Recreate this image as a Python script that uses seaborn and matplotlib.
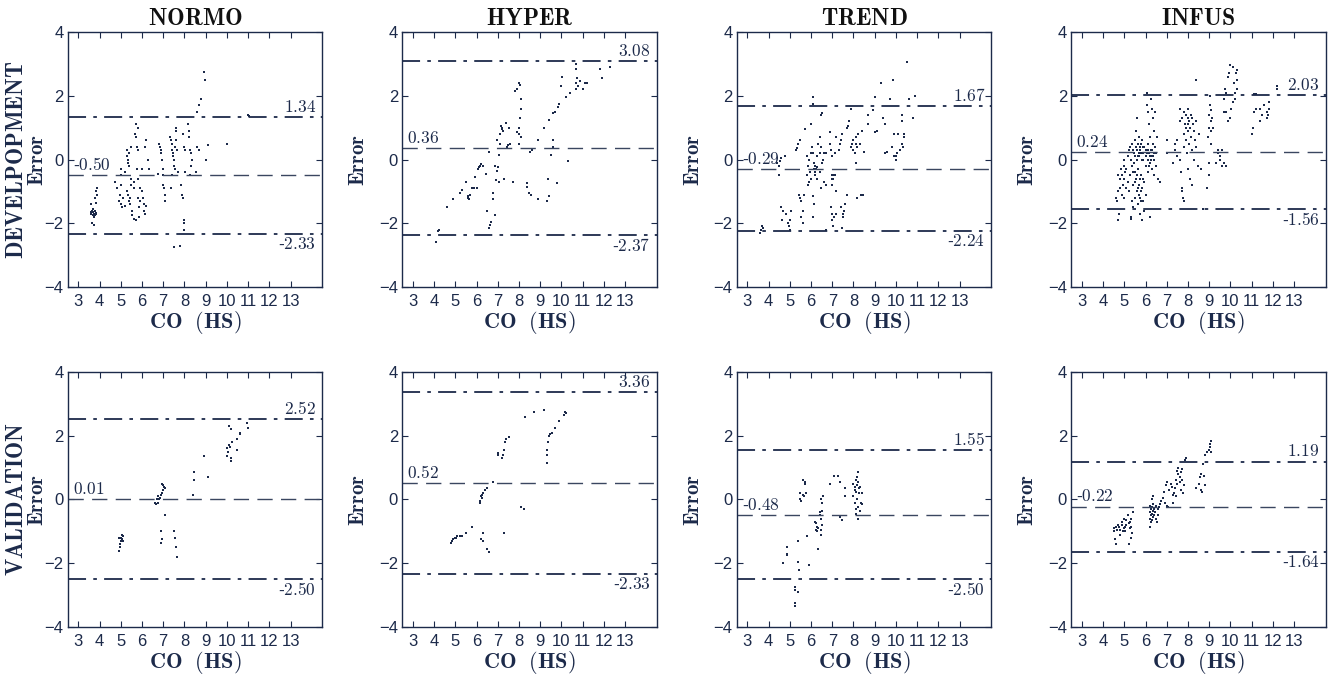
import numpy as np
import pandas as pd
import matplotlib
matplotlib.use("Agg")
import matplotlib.pyplot as plt
import seaborn as sns
from matplotlib.transforms import blended_transform_factory

# -----------------------------
# Data
# -----------------------------
groups = ["NORMO", "HYPER", "TREND", "INFUS"]
rows = ["DEVELPOPMENT", "VALIDATION"]

# mean bias, upper limit, lower limit
dev_stats = [(-0.50, 1.34, -2.33), (0.36, 3.08, -2.37), (-0.29, 1.67, -2.24), (0.24, 2.03, -1.56)]
val_stats = [(0.01, 2.52, -2.50), (0.52, 3.36, -2.33), (-0.48, 1.55, -2.50), (-0.22, 1.19, -1.64)]

normo_dev = [
    (3.6, -1.65), (3.62, -1.7), (3.65, -1.6), (3.68, -1.75), (3.7, -1.65), (3.72, -1.8), (3.75, -1.7),
    (3.78, -1.6), (3.8, -1.75), (3.82, -1.68), (3.85, -1.72), (3.7, -1.55), (3.6, -1.4), (3.65, -2.0),
    (3.75, -2.05), (3.8, -1.2), (3.85, -1.0), (3.9, -0.9), (3.9, -1.1), (3.82, -1.35),
    (4.75, -0.7), (4.8, -0.9), (4.9, -1.3), (4.95, -1.1), (5.0, -0.3), (5.0, -0.5), (5.0, -0.8),
    (5.0, -1.4), (5.05, -1.5), (5.1, -1.2), (5.2, -0.4), (5.2, -1.45),
    (5.3, 0.3), (5.3, 0.1), (5.35, 0.0), (5.35, -0.1), (5.4, -0.2), (5.4, 0.2), (5.3, -1.0),
    (5.35, -1.1), (5.4, -1.3), (5.45, -1.4), (5.45, -1.2), (5.5, -0.6), (5.5, -0.8), (5.5, 0.4),
    (5.55, -1.6), (5.55, -1.75), (5.6, -1.85), (5.6, -0.9), (5.6, -0.7),
    (5.65, 0.8), (5.7, 0.7), (5.7, 1.1), (5.75, 0.4), (5.75, -0.3), (5.8, 1.0), (5.8, 0.3),
    (5.8, -0.6), (5.8, -1.2), (5.85, -1.5), (5.85, -1.8), (5.7, -1.9), (5.9, -1.3), (5.9, -0.9),
    (6.0, -0.3), (6.0, -1.0), (6.05, -1.2), (6.1, -1.4), (6.1, -1.6), (6.15, -1.7), (6.2, -1.45),
    (6.15, 0.4), (6.2, 0.6), (6.3, 0.0), (6.35, -0.3),
    (6.8, 0.5), (6.85, 0.4), (6.9, 0.3), (6.9, 0.2), (6.95, 0.0), (7.0, -0.3), (7.0, -0.5),
    (7.0, -0.8), (7.05, -0.9), (7.1, -1.1), (7.1, -1.3), (6.75, -0.45),
    (7.3, 0.7), (7.35, 0.6), (7.4, 0.5), (7.4, 0.3), (7.45, 0.2), (7.45, 0.1), (7.5, 0.0),
    (7.5, -0.2), (7.55, -0.3), (7.55, 0.4), (7.6, 1.0), (7.6, 0.9), (7.6, 0.6), (7.35, -0.9),
    (7.4, -0.5), (7.65, 0.3), (7.7, -0.4),
    (7.85, -0.8), (7.9, -1.1), (7.95, -1.2), (8.0, -1.9), (8.0, -2.0), (8.0, -2.2), (7.95, 0.8),
    (8.0, 0.4), (8.05, 0.3), (8.05, -0.4),
    (8.15, 1.1), (8.2, 0.9), (8.2, 0.7), (8.25, 0.3), (8.3, 0.2), (8.3, -0.2), (8.25, -0.5), (8.35, 0.0),
    (8.6, 1.5), (8.7, 1.7), (8.8, 1.9), (8.95, 2.5), (8.9, 2.75), (8.6, 0.4), (8.7, 0.3), (9.0, 0.0),
    (8.55, -0.4), (9.1, 0.45), (10.0, 0.5), (11.0, 1.4), (11.05, 1.35),
    (7.5, -2.75), (7.8, -2.7),
]

hyper_dev = [
    (4.1, -2.6), (4.2, -2.25), (4.25, -2.2), (4.6, -1.5), (4.9, -1.25), (5.2, -1.05), (5.3, -0.95),
    (5.5, -0.7), (5.6, -1.15), (5.62, -1.2), (5.65, -1.25), (5.7, -1.1), (5.8, -0.9), (5.9, -0.9),
    (5.95, -0.55), (6.0, -0.88), (6.05, -0.3), (6.1, -0.25), (6.15, -0.2), (6.2, -0.15), (6.3, -0.2),
    (6.45, -0.45), (6.5, -1.6), (6.6, -2.15), (6.65, -2.05), (6.7, -1.95), (6.8, -1.25), (6.8, -1.05),
    (6.85, -1.75), (6.6, 0.25), (6.85, -0.2), (6.95, -0.35), (7.0, -0.25), (6.9, -0.65), (7.05, -0.7),
    (6.95, 0.6), (7.05, 0.15), (7.1, 0.8), (7.15, 1.05), (7.2, 1.0), (7.22, 0.95), (7.25, 0.9),
    (7.1, 0.5), (7.3, -0.6), (7.4, 1.15), (7.45, 0.4), (7.5, 0.45), (7.55, 1.0), (7.6, 0.5),
    (7.7, -0.7), (7.8, 2.15), (7.9, 2.2), (8.0, 2.4), (8.05, 2.35), (8.1, 1.9), (8.1, 1.6),
    (8.05, 1.3), (8.0, 1.0), (8.0, 0.8), (8.0, 0.5), (7.9, 0.85), (8.1, 0.7), (8.4, -0.75),
    (8.4, -0.85), (8.45, -1.05), (8.55, -1.1), (8.5, 0.25), (8.6, 0.3), (8.9, -1.25), (8.9, 0.6),
    (9.3, -1.3), (9.35, -0.6), (9.4, -1.15), (9.2, 1.0), (9.4, 1.25), (9.5, 0.15), (9.6, 0.4),
    (9.6, 0.6), (9.6, 1.45), (9.7, 1.5), (9.8, -0.75), (9.85, 1.65), (9.9, 1.75), (10.0, 2.3),
    (10.05, 2.6), (10.2, 1.95), (10.3, -0.05), (10.4, 2.1), (10.7, 2.2), (10.7, 2.4), (10.75, 2.55),
    (10.7, 2.85), (10.7, 3.0), (10.8, 2.3), (10.9, 2.45), (11.0, 2.2), (11.1, 2.4), (11.2, 2.4),
    (11.8, 2.85), (11.9, 2.55), (12.3, 2.9),
]

trend_dev = [
    (3.6, -2.3), (3.65, -2.2), (3.7, -2.1), (3.75, -2.15), (4.4, -0.1), (4.5, -0.5), (4.5, -0.2),
    (4.55, -0.05), (4.6, 0.05), (4.75, 0.1), (4.6, -1.5), (4.7, -1.6), (4.65, -1.9), (4.8, -1.7),
    (4.9, -2.0), (4.95, -2.1), (5.0, -1.9), (5.05, -1.6), (5.0, -2.2), (5.3, 0.3), (5.35, 0.35),
    (5.4, 0.5), (5.5, 0.6), (5.45, -1.1), (5.5, -1.2), (5.55, -1.3), (5.6, -1.6), (5.55, -1.8),
    (5.6, -2.0), (5.65, -1.1), (5.7, 0.95), (5.8, 0.1), (5.85, -0.2), (5.8, -0.5), (5.9, -0.7),
    (5.95, -0.4), (6.0, 0.2), (5.9, 0.0), (6.0, -0.6), (5.85, -0.8), (6.0, 1.1), (6.1, 1.95),
    (6.1, 1.75), (6.05, 0.4), (6.1, 0.2), (6.15, -0.1), (6.15, -0.3), (6.2, -0.4), (6.2, -0.5),
    (6.25, -0.3), (6.1, -1.15), (6.15, -1.4), (6.1, -1.8), (6.2, -0.2), (6.3, 0.1), (6.3, -0.6),
    (6.35, 0.5), (6.3, -0.25), (6.4, 0.7), (6.45, 0.4), (6.4, 0.2), (6.5, 1.45), (6.45, 1.4),
    (6.5, -0.1), (6.55, 0.0), (6.6, 0.2), (6.4, -0.4), (6.45, -0.9), (6.6, -0.7), (6.7, 0.2),
    (6.7, -0.8), (6.7, -2.2), (6.9, 0.85), (6.9, 0.5), (6.95, 0.3), (7.0, 0.1), (7.0, -0.5),
    (7.0, -0.6), (7.0, -0.8), (7.05, -0.6), (7.1, -0.5), (6.95, -1.5), (7.0, -1.7), (7.0, -1.9),
    (7.05, -2.1), (7.1, -1.8), (7.15, -0.5), (7.15, 0.2), (7.2, 0.7), (7.2, -1.0), (7.2, -1.7),
    (7.3, 0.3), (7.35, 0.5), (7.4, 0.6), (7.45, 0.8), (7.4, -1.5), (7.5, -1.7), (7.55, -1.6),
    (7.6, -1.4), (7.45, -2.15), (7.5, -1.8), (7.7, 1.0), (7.75, 1.05), (7.8, 1.2), (7.9, 1.6),
    (7.9, 0.4), (7.95, 0.5), (8.0, 0.3), (8.0, 0.6), (8.05, 0.2), (8.1, 0.5), (8.1, -0.1),
    (8.15, 0.4), (8.2, 0.8), (8.3, 0.5), (8.15, -1.2), (8.35, -1.1), (8.45, -1.1), (8.4, 0.9),
    (8.5, 0.25), (8.1, 0.7), (7.7, -1.1), (8.7, 1.4), (8.7, 1.1), (8.9, 1.55), (9.0, 1.95),
    (9.0, 0.85), (9.1, 0.9), (9.3, 2.4), (9.4, 1.3), (9.5, 1.1), (9.5, 0.2), (9.6, 0.25),
    (9.7, 1.9), (9.8, 0.4), (9.9, 0.8), (9.85, 2.5), (9.9, 0.1), (10.0, 0.0), (10.05, 0.2),
    (10.1, 0.8), (10.0, 0.1), (10.3, 1.4), (10.3, 1.2), (10.3, 0.5), (10.35, 0.4), (10.4, 0.8),
    (10.4, 0.7), (10.5, 3.05), (10.6, 1.9), (10.8, 1.3), (10.9, 2.0), (10.2, 0.3),
]

infus_dev = [
    (4.6, -1.2), (4.65, -1.3), (4.7, -1.0), (4.7, -1.9), (4.75, -1.7), (4.7, -0.5), (4.8, -0.6),
    (4.8, -0.9), (4.85, -0.3), (4.9, -0.5), (4.9, -1.1), (4.95, -0.8), (5.0, -0.2), (5.0, -0.6),
    (5.0, -1.2), (5.05, -0.4), (5.0, 0.0), (5.1, -0.9), (5.1, -0.3), (5.15, 0.1), (5.15, -0.7),
    (5.2, 0.3), (5.2, -1.0), (5.25, -0.5), (5.25, 0.4), (5.3, -1.85), (5.32, -1.8), (5.35, -1.3),
    (5.3, 0.0), (5.35, -0.2), (5.35, 0.5), (5.4, -1.5), (5.4, -0.8), (5.45, 0.2), (5.45, -0.1),
    (5.5, -1.2), (5.5, 0.6), (5.5, -0.4), (5.55, 0.9), (5.55, -0.6), (5.6, 0.3), (5.6, -1.0),
    (5.6, 1.3), (5.65, 0.5), (5.65, -0.3), (5.65, -1.4), (5.7, 0.1), (5.7, -0.8), (5.7, 0.7),
    (5.75, -1.2), (5.75, 0.4), (5.75, -1.7), (5.8, 0.2), (5.8, -0.5), (5.8, -1.0), (5.85, 0.6),
    (5.85, -0.9), (5.85, -1.9), (5.9, 0.0), (5.9, -1.3), (5.9, 0.4), (5.95, -0.7), (5.95, -1.6),
    (6.0, 0.3), (6.0, -0.2), (6.0, -1.1), (6.05, 1.7), (6.05, 2.1), (6.1, 1.5), (6.1, 0.5),
    (6.1, 0.0), (6.1, -0.4), (6.15, 0.2), (6.15, 1.1), (6.2, 0.7), (6.2, -0.1), (6.2, -1.8),
    (6.25, 0.3), (6.25, 1.9), (6.3, 1.6), (6.3, 0.1), (6.3, -0.3), (6.35, 0.5), (6.35, 1.3),
    (6.4, 0.0), (6.4, 0.9), (6.4, -0.5), (6.45, 0.4), (6.45, 1.5), (6.5, 0.2), (6.5, -0.2),
    (6.55, 0.7), (6.6, -0.6), (6.7, -0.7), (5.4, 0.3), (5.5, 0.1), (5.6, 0.0), (5.7, 0.2),
    (5.8, 0.5), (5.9, 0.2), (6.0, 0.1), (6.1, 0.3), (6.2, 0.1), (6.3, 0.3), (6.4, 0.2),
    (5.55, 0.4), (5.65, 0.1), (5.75, 0.3), (5.85, 0.0), (5.95, 0.4), (6.05, 0.2), (6.15, -0.2),
    (6.25, 0.0), (6.35, 0.1), (5.4, -0.4), (5.5, -0.7), (5.6, -0.5), (5.7, -1.1), (5.8, -1.3),
    (5.9, -0.6), (5.65, -0.9), (5.75, -0.6),
    (7.0, 0.6), (7.0, 0.2), (7.3, -0.1), (7.4, 0.3), (7.4, 0.5), (7.5, 0.1), (7.5, 0.6),
    (7.6, 1.6), (7.6, 1.2), (7.6, 0.0), (7.65, -0.4), (7.7, -0.9), (7.72, -1.0), (7.75, -1.2),
    (7.8, -1.3), (7.7, 1.3), (7.8, 1.5), (7.8, 0.8), (7.8, 0.4), (7.85, 1.1), (7.9, 1.4),
    (7.9, 1.0), (7.9, 0.6), (7.95, 0.2), (8.0, 1.6), (8.0, 1.3), (8.0, 1.1), (8.0, 0.9),
    (8.0, -0.3), (8.05, 1.2), (8.05, 0.5), (8.1, 1.0), (8.1, -0.6), (8.15, 1.4), (8.15, 0.7),
    (8.2, 1.3), (8.2, 0.3), (8.2, -0.8), (8.25, 1.1), (8.3, 0.9), (8.3, 0.0), (8.35, 0.6),
    (8.4, 2.5), (8.4, 1.2), (8.4, 0.4), (8.45, -0.2), (8.5, 0.8), (8.6, -0.3), (8.7, -1.55),
    (8.9, -0.9), (8.95, 0.7), (9.0, 1.0), (9.0, 1.4), (9.05, 2.0), (9.05, 1.7), (9.1, 0.9),
    (9.1, 1.2), (9.1, 1.55), (9.1, 0.5), (9.15, 1.3), (9.0, -0.5), (9.0, -0.1), (9.2, 1.0),
    (9.3, -0.1), (9.4, 0.3), (9.4, 0.2), (9.5, 0.0), (9.5, 0.1), (9.6, -0.2), (9.6, 0.3),
    (9.7, -0.1), (9.8, -0.2), (9.7, 1.9), (9.75, 2.2), (9.8, 2.1), (9.7, 1.5), (9.8, 1.5),
    (9.9, 2.6), (9.95, 2.7), (10.0, 2.95), (10.0, 1.3), (10.05, 1.6), (10.1, 2.9), (10.15, 2.4),
    (10.2, 1.9), (10.2, 2.1), (10.25, 2.7), (10.3, 2.5), (10.3, 2.8), (10.3, 2.2), (10.1, 1.8),
    (9.9, 1.2), (11.0, 0.8), (11.05, 1.0), (11.1, 2.05), (11.1, 1.5), (11.2, 1.6), (11.2, 2.05),
    (11.4, 1.2), (11.4, 1.6), (11.5, 1.4), (11.6, 1.7), (11.7, 1.3), (11.7, 1.5), (11.8, 1.8),
    (11.8, 1.6), (11.75, 1.4), (12.2, 2.2), (12.2, 2.3),
]

normo_val = [
    (4.9, -1.6), (4.95, -1.5), (4.95, -1.4), (5.0, -1.3), (5.0, -1.2), (5.05, -1.25), (5.1, -1.15),
    (5.1, -1.3), (4.9, -1.2), (5.05, -1.1), (6.6, -0.1), (6.65, -0.15), (6.7, 0.0), (6.75, 0.1),
    (6.8, 0.0), (6.75, -0.1), (6.85, 0.05), (6.9, 0.15), (6.95, 0.2), (7.0, 0.45), (7.0, 0.3),
    (7.05, 0.4), (7.1, 0.35), (6.95, 0.5), (6.9, -1.0), (6.9, -1.35), (6.95, -1.25), (7.1, -0.5),
    (7.5, -1.0), (7.55, -1.2), (7.6, -1.5), (7.65, -1.8), (8.4, 0.15), (8.45, 0.6), (8.45, 0.85),
    (8.9, 1.35), (9.1, 0.7), (10.0, 1.35), (10.0, 1.6), (10.05, 1.5), (10.1, 2.3), (10.1, 1.7),
    (10.15, 1.65), (10.2, 2.2), (10.2, 1.3), (10.2, 1.2), (10.25, 1.8), (10.5, 1.55), (10.5, 1.9),
    (10.6, 2.05), (10.6, 2.1), (10.95, 2.4), (11.0, 2.25),
]

hyper_val = [
    (4.8, -1.35), (4.85, -1.3), (4.9, -1.25), (5.0, -1.2), (5.05, -1.2), (5.1, -1.15), (5.2, -1.15),
    (5.3, -1.15), (5.5, -1.05), (5.8, -0.85), (6.15, -0.05), (6.15, -0.1), (6.2, 0.1), (6.25, 0.15),
    (6.25, 0.05), (6.3, 0.2), (6.4, 0.3), (6.5, 0.35), (6.8, 0.55), (6.2, -1.25), (6.3, -1.3),
    (6.3, -1.05), (6.5, -1.55), (6.6, -1.65), (7.0, 1.45), (7.0, 1.4), (7.2, 1.3), (7.25, 1.4),
    (7.3, 1.55), (7.35, 1.8), (7.4, 1.9), (7.55, 1.95), (7.3, -1.05), (8.1, -0.25), (8.25, -0.3),
    (8.3, 2.6), (8.7, 2.75), (9.2, 2.8), (9.3, 1.15), (9.3, 1.4), (9.3, 1.55), (9.35, 1.8),
    (9.4, 2.0), (9.45, 2.05), (9.55, 2.1), (9.7, 2.25), (9.9, 2.45), (10.1, 2.65), (10.15, 2.75),
    (10.2, 2.7),
]

trend_val = [
    (4.7, -2.0), (4.85, -1.5), (4.85, -1.7), (4.87, -1.75), (5.25, -2.75), (5.25, -2.85), (5.25, -3.25),
    (5.25, -3.35), (5.4, -1.3), (5.4, -1.95), (5.45, -2.2), (5.4, -2.9), (5.5, 0.0), (5.55, -0.05),
    (5.5, 0.2), (5.6, 0.15), (5.65, 0.1), (5.6, 0.6), (5.7, 0.5), (5.72, 0.55), (5.75, 0.2),
    (5.8, -1.15), (5.9, -2.05), (6.2, -0.7), (6.25, -0.75), (6.3, -0.85), (6.25, -0.95), (6.3, -1.0),
    (6.35, -0.9), (6.35, -1.55), (6.4, -0.5), (6.4, -0.4), (6.45, -0.6), (6.45, -1.1), (6.5, -0.8),
    (6.45, 0.0), (6.5, -0.1), (6.55, 0.1), (6.5, -0.35), (6.45, -0.95), (6.9, 0.5), (7.1, 0.75),
    (7.25, 0.75), (7.35, 0.55), (7.35, -0.55), (7.45, -0.65), (7.6, 0.35), (7.6, 0.1), (8.0, 0.5),
    (8.0, 0.1), (8.05, -0.1), (8.05, 0.3), (8.1, 0.6), (8.1, -0.3), (8.1, -0.45), (8.15, 0.7),
    (8.15, 0.45), (8.15, 0.0), (8.2, 0.85), (8.2, 0.55), (8.2, -0.6), (8.2, -0.25), (8.25, 0.35),
    (8.25, 0.2), (8.3, -0.35), (8.3, 0.4), (8.35, -0.1), (8.4, 0.2), (8.4, -0.15), (8.1, 0.25),
    (8.05, 0.4),
]

infus_val = [
    (4.5, -0.9), (4.5, -1.0), (4.55, -1.25), (4.6, -1.4), (4.6, -0.85), (4.7, -0.8), (4.75, -0.85),
    (4.8, -0.95), (4.8, -1.1), (4.9, -0.7), (4.9, -0.8), (4.95, -1.0), (5.0, -0.6), (5.0, -0.9),
    (5.05, -1.0), (5.1, -0.65), (5.1, -0.8), (5.15, -0.5), (5.2, -0.75), (5.2, -1.4), (5.25, -0.9),
    (5.25, -0.7), (5.3, -0.85), (5.3, -1.2), (5.35, -1.05), (5.3, -0.6), (5.4, -0.4), (4.65, -0.95),
    (5.05, -0.85), (6.2, -0.2), (6.2, -0.4), (6.2, -0.6), (6.2, -0.85), (6.25, -0.3), (6.25, -0.5),
    (6.25, -0.7), (6.3, 0.0), (6.3, -0.25), (6.3, -0.45), (6.3, -0.65), (6.35, 0.1), (6.35, -0.15),
    (6.35, -0.35), (6.35, -0.55), (6.4, -0.3), (6.4, -0.5), (6.45, -0.4), (6.5, -0.2), (6.5, -0.6),
    (6.55, -0.7), (6.6, -0.5), (6.6, -0.3), (6.65, -0.25), (6.7, -0.15), (6.75, -0.05), (6.8, 0.05),
    (6.85, 0.25), (6.9, -0.1), (6.95, 0.45), (7.0, 0.55), (7.0, -0.2), (7.05, -0.25), (7.1, 0.3),
    (7.2, 0.5), (7.25, 0.4), (7.3, -0.1), (7.3, 0.15), (7.35, 0.2), (7.4, 0.35), (7.45, 0.6),
    (7.45, 0.1), (7.5, 0.9), (7.5, 0.5), (7.55, 1.0), (7.55, 0.8), (7.6, 0.7), (7.6, 0.55),
    (7.65, 0.85), (7.65, 0.3), (7.7, 0.6), (7.7, 0.95), (7.75, 0.2), (7.8, 0.45), (7.9, 1.3),
    (7.85, 1.25), (8.4, 0.35), (8.5, 0.5), (8.55, 0.7), (8.6, 0.8), (8.6, 0.3), (8.65, 0.25),
    (8.7, 1.1), (8.75, 0.75), (8.8, 0.45), (8.8, 1.4), (8.9, 1.5), (9.0, 1.55), (9.05, 1.65),
    (9.1, 1.5), (9.1, 1.85), (9.05, 1.75),
]

dev_points = [normo_dev, hyper_dev, trend_dev, infus_dev]
val_points = [normo_val, hyper_val, trend_val, infus_val]

x_ticks = list(range(3, 14))
y_ticks = [-4, -2, 0, 2, 4]

# -----------------------------
# Style
# -----------------------------
navy = "#1c2a4a"
sns.set_style("ticks")
plt.rcParams["mathtext.fontset"] = "cm"
plt.rcParams["font.family"] = ["Liberation Sans", "DejaVu Sans"]


def num_label(v):
    # sans hyphen in front, digits in Computer Modern like the original
    s = rf"$\mathrm{{{abs(v):.2f}}}$"
    return ("-" + s) if v < 0 else s


fig, axes = plt.subplots(2, 4, figsize=(13.33, 6.78), dpi=100)
fig.subplots_adjust(left=0.0508, right=0.9947, top=0.9528, bottom=0.0752,
                    wspace=0.3136, hspace=0.333)

for r, (pts_row, stats_row) in enumerate([(dev_points, dev_stats), (val_points, val_stats)]):
    for c in range(4):
        ax = axes[r, c]
        df = pd.DataFrame(pts_row[c], columns=["co", "err"])
        sns.scatterplot(data=df, x="co", y="err", ax=ax, color=navy, s=3,
                        marker="s", linewidth=0)

        mean, hi, lo = stats_row[c]
        ax.axhline(mean, color="#3a4660", lw=1.0, dashes=(11, 6))
        ax.axhline(hi, color=navy, lw=1.3, dashes=(10, 4, 2, 4))
        ax.axhline(lo, color=navy, lw=1.3, dashes=(10, 4, 2, 4))

        tr = blended_transform_factory(ax.transAxes, ax.transData)
        ax.annotate(num_label(hi), (0.975, hi), xycoords=tr,
                    xytext=(0, 1.5), textcoords="offset points",
                    ha="right", va="bottom", fontsize=12.5, color=navy)
        ax.annotate(num_label(lo), (0.975, lo), xycoords=tr,
                    xytext=(0, -1.5), textcoords="offset points",
                    ha="right", va="top", fontsize=12.5, color=navy)
        ax.annotate(num_label(mean), (0.02, mean), xycoords=tr,
                    xytext=(0, 1.5), textcoords="offset points",
                    ha="left", va="bottom", fontsize=12.5, color=navy)

        ax.set_xlim(2.5, 14.5)
        ax.set_ylim(-4, 4)
        ax.set_xticks(x_ticks)
        ax.set_yticks(y_ticks)
        ax.tick_params(direction="in", top=True, right=True, length=4,
                       width=0.8, colors=navy, labelsize=12, pad=3)
        ax.tick_params(axis="x", pad=5)
        for lab in ax.get_xticklabels() + ax.get_yticklabels():
            lab.set_color(navy)
        for sp in ax.spines.values():
            sp.set_visible(True)
            sp.set_color(navy)
            sp.set_linewidth(1.0)

        ax.set_xlabel(r"$\mathbf{CO\ \ (HS)}$", fontsize=16, color=navy, labelpad=0)
        ax.set_ylabel(r"$\mathbf{Error}$", fontsize=15, color=navy)
        # first column carries a two-line label (row name + Error)
        ax.yaxis.set_label_coords(-0.081 if c == 0 else -0.134, 0.5)
        if r == 0:
            ax.set_title(rf"$\mathbf{{{groups[c]}}}$", fontsize=17, color="#111111", pad=5)

# row labels on the left
for r, name in enumerate(rows):
    pos = axes[r, 0].get_position()
    fig.text(0.0124, pos.y0 + pos.height / 2, rf"$\mathbf{{{name}}}$", rotation=90,
             ha="center", va="center", fontsize=16.5, color=navy)

fig.savefig("out.png", dpi=100)
